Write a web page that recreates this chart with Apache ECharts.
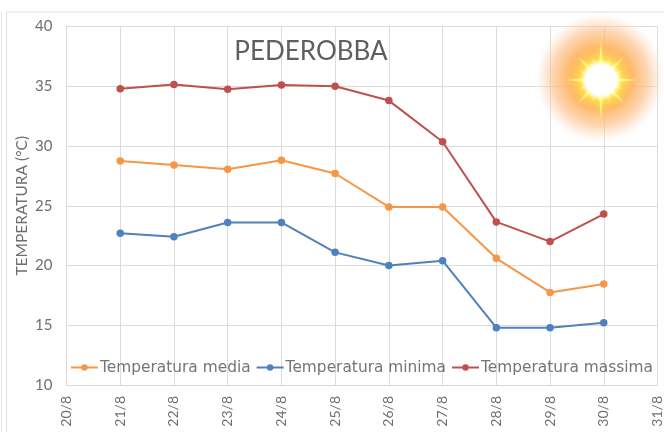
<!DOCTYPE html>
<html><head><meta charset="utf-8">
<style>html,body{margin:0;padding:0;background:#fff}#c{width:664px;height:432px}</style>
<script src="https://cdn.jsdelivr.net/npm/echarts@6/dist/echarts.min.js"></script>
</head><body><div id="c"></div>
<script>
const categories = ['20/8','21/8','22/8','23/8','24/8','25/8','26/8','27/8','28/8','29/8','30/8','31/8'];
const media   = [null,28.75,28.4,28.05,28.8,27.7,24.9,24.9,20.6,17.75,18.45,null];
const minima  = [null,22.7,22.4,23.6,23.6,21.1,20.0,20.4,14.8,14.8,15.2,null];
const massima = [null,34.8,35.15,34.75,35.1,35.0,33.8,30.35,23.65,22.0,24.3,null];
const FONT = '"Lato","Open Sans",sans-serif';
const TXT = '#6f6f6f';
const sx = 601, sy = 80;
function star(rays, outer, inner, rot){
  const p = [];
  for (let i = 0; i < rays * 2; i++) {
    const r = i % 2 ? inner : outer[(i / 2) % outer.length];
    const a = rot + i * Math.PI / rays;
    p.push([r * Math.cos(a), r * Math.sin(a)]);
  }
  return p;
}
const chart = echarts.init(document.getElementById('c'), null, {renderer:'canvas'});
const mk = (name, data, color) => ({
  name, type:'line', data, symbol:'circle', symbolSize:7.5, connectNulls:false,
  lineStyle:{color, width:2}, itemStyle:{color}
});
chart.setOption({
  animation:false,
  backgroundColor:'#fff',
  title:{text:'PEDEROBBA', left:306, top:34, textAlign:'center',
    textStyle:{fontFamily:FONT, fontSize:26, fontWeight:'normal', color:'#5f5f5f'}},
  legend:{left:70, top:360, itemWidth:27, itemHeight:8, itemGap:5, padding:0,
    data:['Temperatura media','Temperatura minima','Temperatura massima'],
    textStyle:{fontFamily:'"DejaVu Sans"', fontSize:15.4, color:'#757575', padding:[0,0,0,-3]}},
  grid:{left:66.5, right:6.5, top:26.5, bottom:47, containLabel:false, outerBoundsMode:'none'},
  xAxis:{type:'category', data:categories, boundaryGap:false,
    axisTick:{show:false},
    axisLine:{lineStyle:{color:'#d9d9d9'}},
    axisLabel:{rotate:90, fontFamily:FONT, fontSize:14, color:TXT, margin:11, interval:0},
    splitLine:{show:true, lineStyle:{color:'#dcdcdc', width:1}}},
  yAxis:{type:'value', min:10, max:40, interval:5,
    name:'TEMPERATURA (°C)', nameLocation:'middle', nameGap:37, nameRotate:90, nameMoveOverlap:false,
    nameTextStyle:{fontFamily:FONT, fontSize:15.5, color:TXT},
    axisTick:{show:false},
    axisLine:{show:true, lineStyle:{color:'#d9d9d9'}},
    axisLabel:{fontFamily:FONT, fontSize:15, color:TXT, margin:14},
    splitLine:{show:true, lineStyle:{color:'#dcdcdc', width:1}}},
  series:[mk('Temperatura media',media,'#f79646'), mk('Temperatura minima',minima,'#4f81bd'), mk('Temperatura massima',massima,'#c0504d')],
  graphic:[
    {type:'line', silent:true, z:-1, shape:{x1:6.5,y1:12,x2:664,y2:12}, style:{stroke:'#dedede',lineWidth:1}},
    {type:'line', silent:true, z:-1, shape:{x1:6.5,y1:12,x2:6.5,y2:432}, style:{stroke:'#dedede',lineWidth:1}},
    {type:'line', silent:true, z:-1, shape:{x1:1.5,y1:12,x2:1.5,y2:432}, style:{stroke:'#e6e6e6',lineWidth:1}},
    {type:'circle', silent:true, z:5, shape:{cx:sx-1,cy:sy-2,r:65},
      style:{fill:{type:'radial',x:0.5,y:0.5,r:0.5,colorStops:[
        {offset:0,color:'rgba(255,175,60,1)'},
        {offset:0.5,color:'rgba(253,178,90,0.88)'},
        {offset:0.74,color:'rgba(252,190,135,0.62)'},
        {offset:0.9,color:'rgba(252,208,175,0.26)'},
        {offset:1,color:'rgba(255,230,215,0)'}]}}},
    {type:'circle', silent:true, z:5, shape:{cx:sx,cy:sy,r:32},
      style:{fill:{type:'radial',x:0.5,y:0.5,r:0.5,colorStops:[
        {offset:0,color:'rgba(255,240,90,1)'},
        {offset:0.6,color:'rgba(255,232,80,0.85)'},
        {offset:1,color:'rgba(255,200,70,0)'}]}}},
    {type:'polygon', silent:true, z:6, x:sx, y:sy,
      shape:{points:star(16,[42,24,32,24,36,24,32,24],11,-Math.PI/2)},
      style:{fill:'rgba(255,250,130,0.85)', shadowBlur:5, shadowColor:'rgba(255,235,90,0.9)'}},
    {type:'circle', silent:true, z:7, shape:{cx:sx,cy:sy,r:21},
      style:{fill:{type:'radial',x:0.5,y:0.5,r:0.5,colorStops:[
        {offset:0,color:'#ffffff'},{offset:0.72,color:'#ffffff'},{offset:1,color:'rgba(255,255,200,0)'}]}}}
  ]
});
</script></body></html>
